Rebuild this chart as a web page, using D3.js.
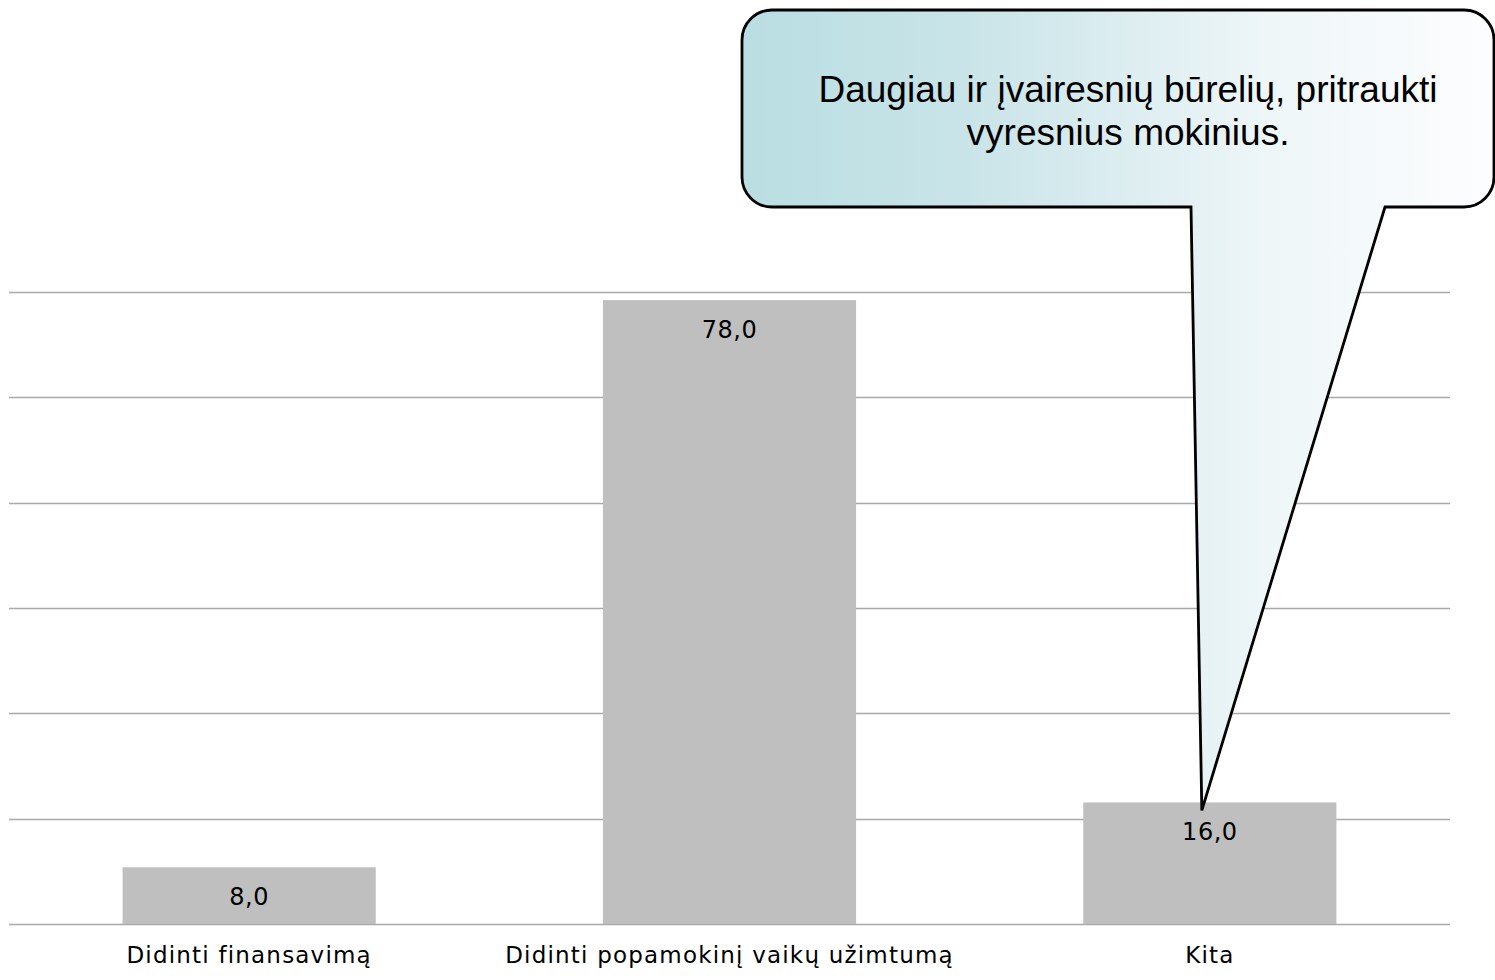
<!DOCTYPE html>
<html>
<head>
<meta charset="utf-8">
<script src="https://cdn.jsdelivr.net/npm/d3@7/dist/d3.min.js"></script>
<style>
  html, body { margin: 0; padding: 0; background: #fff; }
  svg { display: block; }
</style>
</head>
<body>
<svg id="chart" width="1495" height="980"></svg>
<script>
// Survey answers: how to improve after-school activities (percent)
const categories = ["Didinti finansavimą", "Didinti popamokinį vaikų užimtumą", "Kita"];
const values = [8.0, 78.0, 16.0];
const gridValues = [1, 14, 27, 40, 53, 66, 79];
const calloutLines = ["Daugiau ir įvairesnių būrelių, pritraukti", "vyresnius mokinius."];
const calloutTarget = "Kita";

const svg = d3.select("#chart");
const plot = { left: 9, right: 1450, top: 292, bottom: 924 };

const x = d3.scaleBand()
  .domain(categories)
  .range([plot.left, plot.right])
  .paddingInner(0.473)
  .paddingOuter(0.2365);

const y = d3.scaleLinear()
  .domain([gridValues[0], gridValues[gridValues.length - 1]])
  .range([plot.bottom, plot.top]);

const fmt = v => d3.format(".1f")(v).replace(".", ",");

// Horizontal gridlines
svg.append("g")
  .selectAll("line")
  .data(gridValues)
  .join("line")
  .attr("x1", plot.left)
  .attr("x2", plot.right)
  .attr("y1", d => Math.round(y(d)) + 0.5)
  .attr("y2", d => Math.round(y(d)) + 0.5)
  .attr("stroke", "#a9a9a9")
  .attr("stroke-width", 1.3);

// Bars
svg.append("g")
  .selectAll("rect")
  .data(categories)
  .join("rect")
  .attr("x", d => x(d))
  .attr("width", x.bandwidth())
  .attr("y", (d, i) => y(values[i]))
  .attr("height", (d, i) => y(gridValues[0]) - y(values[i]))
  .attr("fill", "#bfbfbf");

// Value labels inside bar tops
svg.append("g")
  .selectAll("text")
  .data(categories)
  .join("text")
  .attr("x", d => x(d) + x.bandwidth() / 2)
  .attr("y", (d, i) => y(values[i]) + 38)
  .attr("text-anchor", "middle")
  .attr("font-family", "DejaVu Sans, Verdana, sans-serif")
  .attr("font-size", 24)
  .attr("letter-spacing", 0.5)
  .attr("fill", "#000")
  .text((d, i) => fmt(values[i]));

// Category axis labels
svg.append("g")
  .selectAll("text")
  .data(categories)
  .join("text")
  .attr("x", d => x(d) + x.bandwidth() / 2)
  .attr("y", 963)
  .attr("text-anchor", "middle")
  .attr("font-family", "DejaVu Sans, Verdana, sans-serif")
  .attr("font-size", 23)
  .attr("letter-spacing", 1.2)
  .attr("fill", "#000")
  .text(d => d);

// Speech-bubble callout pointing at the "Kita" bar
const defs = svg.append("defs");
const grad = defs.append("linearGradient")
  .attr("id", "calloutFill")
  .attr("x1", "0%").attr("x2", "100%")
  .attr("y1", "0%").attr("y2", "0%");
grad.append("stop").attr("offset", "0%").attr("stop-color", "#b9dee2");
grad.append("stop").attr("offset", "30%").attr("stop-color", "#c9e4e8");
grad.append("stop").attr("offset", "70%").attr("stop-color", "#eef6f8");
grad.append("stop").attr("offset", "100%").attr("stop-color", "#fdfdfe");

const box = { x0: 742, x1: 1494, y0: 10, y1: 207, r: 30 };
const ti = values[categories.indexOf(calloutTarget)];
const tip = [x(calloutTarget) + x.bandwidth() / 2 - 8, y(ti) + 8];
const baseL = 1191, baseR = 1385;

const p = d3.path();
p.moveTo(box.x0 + box.r, box.y0);
p.lineTo(box.x1 - box.r, box.y0);
p.arcTo(box.x1, box.y0, box.x1, box.y0 + box.r, box.r);
p.lineTo(box.x1, box.y1 - box.r);
p.arcTo(box.x1, box.y1, box.x1 - box.r, box.y1, box.r);
p.lineTo(baseR, box.y1);
p.lineTo(tip[0], tip[1]);
p.lineTo(baseL, box.y1);
p.lineTo(box.x0 + box.r, box.y1);
p.arcTo(box.x0, box.y1, box.x0, box.y1 - box.r, box.r);
p.lineTo(box.x0, box.y0 + box.r);
p.arcTo(box.x0, box.y0, box.x0 + box.r, box.y0, box.r);
p.closePath();

svg.append("path")
  .attr("d", p.toString())
  .attr("fill", "url(#calloutFill)")
  .attr("stroke", "#000")
  .attr("stroke-width", 2.8)
  .attr("stroke-linejoin", "miter");

svg.append("text")
  .attr("x", 1128)
  .attr("y", 102)
  .attr("text-anchor", "middle")
  .attr("font-family", "Liberation Sans, Arial, sans-serif")
  .attr("font-size", 37)
  .attr("fill", "#000")
  .selectAll("tspan")
  .data(calloutLines)
  .join("tspan")
  .attr("x", 1128)
  .attr("dy", (d, i) => i === 0 ? 0 : 43)
  .text(d => d);
</script>
</body>
</html>
